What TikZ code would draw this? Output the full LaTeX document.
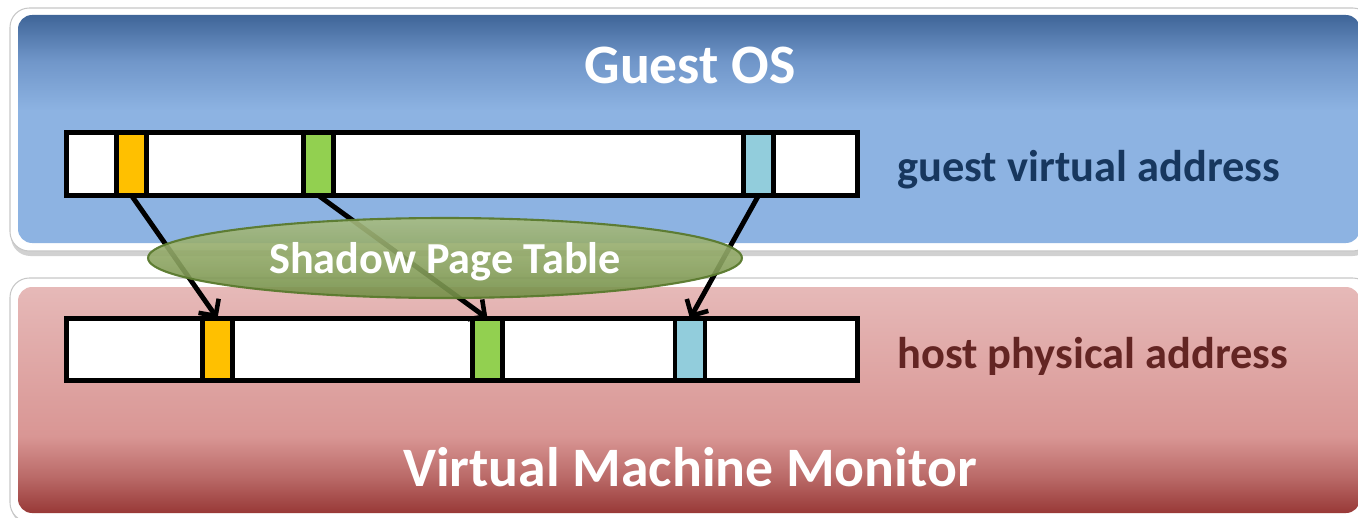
\documentclass[tikz,border=0pt]{standalone}
\usepackage{fontspec}
\setmainfont{Carlito}
\usetikzlibrary{arrows.meta,shapes.geometric}

% panel colours
\definecolor{blueTop}{HTML}{3F6598}
\definecolor{blueMid}{HTML}{7096C9}
\definecolor{blueLow}{HTML}{8DB3E2}
\definecolor{redTop}{HTML}{E6B9B8}
\definecolor{redMid}{HTML}{D99694}
\definecolor{redDeep}{HTML}{BA6A68}
\definecolor{redBot}{HTML}{983937}
\definecolor{guestText}{HTML}{17375E}
\definecolor{hostText}{HTML}{632523}
% page colours
\definecolor{pgOrange}{HTML}{FFC000}
\definecolor{pgGreen}{HTML}{92D050}
\definecolor{pgBlue}{HTML}{92CDDC}
% shadow page table
\definecolor{sptTop}{HTML}{A8BC80}
\definecolor{sptMid}{HTML}{86A05A}
\definecolor{sptBot}{HTML}{748F47}
\definecolor{sptLine}{HTML}{5A7A2E}

% the path box maps to 25bp..75bp of these shadings
\pgfdeclareverticalshading{guestshade}{100bp}{color(0bp)=(blueLow); color(54bp)=(blueLow); color(65bp)=(blueMid); color(75bp)=(blueTop); color(100bp)=(blueTop)}
\pgfdeclareverticalshading{hostshade}{100bp}{color(0bp)=(redBot); color(25bp)=(redBot); color(33bp)=(redDeep); color(42bp)=(redMid); color(75bp)=(redTop); color(100bp)=(redTop)}

\tikzset{
  rim/.style={draw=black!22, line width=0.6pt, fill=white, rounded corners=11pt},
  rimshadow/.style={fill=black!18, rounded corners=11pt},
  bar/.style={draw=black, line width=2.8pt, fill=white, rectangle, inner sep=0pt, outer sep=0pt},
  cell/.style={draw=black, line width=2.8pt, rectangle, inner sep=0pt, outer sep=0pt, minimum width=0.6cm},
  maparrow/.style={draw=black, line width=2.8pt, -{Straight Barb[length=7pt,width=14pt,line width=2.6pt]}},
  layertitle/.style={text=white, font=\fontsize{31.7}{36}\selectfont\bfseries, anchor=base, inner sep=0pt},
  addrlabel/.style={font=\fontsize{25.3}{30}\selectfont\bfseries, anchor=base west, inner sep=0pt},
  spt/.style={ellipse, draw=sptLine, line width=1.2pt, top color=sptTop, middle color=sptMid, bottom color=sptBot,
    fill opacity=0.9, draw opacity=0.95, text opacity=1, text=white,
    minimum width=11.88cm, minimum height=1.6cm, inner sep=0pt, text depth=0pt,
    font=\fontsize{25.2}{28}\selectfont\bfseries}
}

\begin{document}
\begin{tikzpicture}[x=0.02cm, y=-0.02cm]
  \useasboundingbox (0,0) rectangle (1358,517);
  \clip (0,0) rectangle (1358,517);

  % guest OS layer
  \fill[rimshadow] (11,11) rectangle (1372,256);
  \draw[rim] (10,8) rectangle (1372,251);
  \shade[shading=guestshade, rounded corners=8pt] (18,15) rectangle (1360,243);

  % virtual machine monitor layer
  \fill[rimshadow] (11,281) rectangle (1372,525);
  \draw[rim] (10,278) rectangle (1372,522);
  \shade[shading=hostshade, rounded corners=8pt] (18,287) rectangle (1360,513);

  % guest virtual address space
  \node[bar, minimum width=15.82cm, minimum height=1.26cm] (gbar) at (462,164) {};
  \node[cell, fill=pgOrange, minimum height=1.26cm] (g1) at (131.5,164) {};
  \node[cell, fill=pgGreen,  minimum height=1.26cm] (g2) at (318.5,164) {};
  \node[cell, fill=pgBlue,   minimum height=1.26cm] (g3) at (758.5,164) {};

  % host physical address space
  \node[bar, minimum width=15.82cm, minimum height=1.24cm] (hbar) at (462,349.5) {};
  \node[cell, fill=pgOrange, minimum height=1.24cm] (h1) at (217.5,349.5) {};
  \node[cell, fill=pgGreen,  minimum height=1.24cm] (h2) at (487.5,349.5) {};
  \node[cell, fill=pgBlue,   minimum height=1.24cm] (h3) at (690,349.5) {};

  % page mappings
  \draw[maparrow] (g1.south) -- (h1.north);
  \draw[maparrow] (g2.south) -- (h2.north);
  \draw[maparrow] (g3.south) -- (h3.north);

  % shadow page table over the mappings
  \node[spt] (spt) at (445,258) {Shadow Page Table};

  % labels
  \node[layertitle] (guestos) at (690,84) {Guest OS};
  \node[layertitle] (vmm) at (690,486) {Virtual Machine Monitor};
  \node[addrlabel, text=guestText] (gva) at (897,181) {guest virtual address};
  \node[addrlabel, text=hostText] (hpa) at (897,368) {host physical address};
\end{tikzpicture}
\end{document}
